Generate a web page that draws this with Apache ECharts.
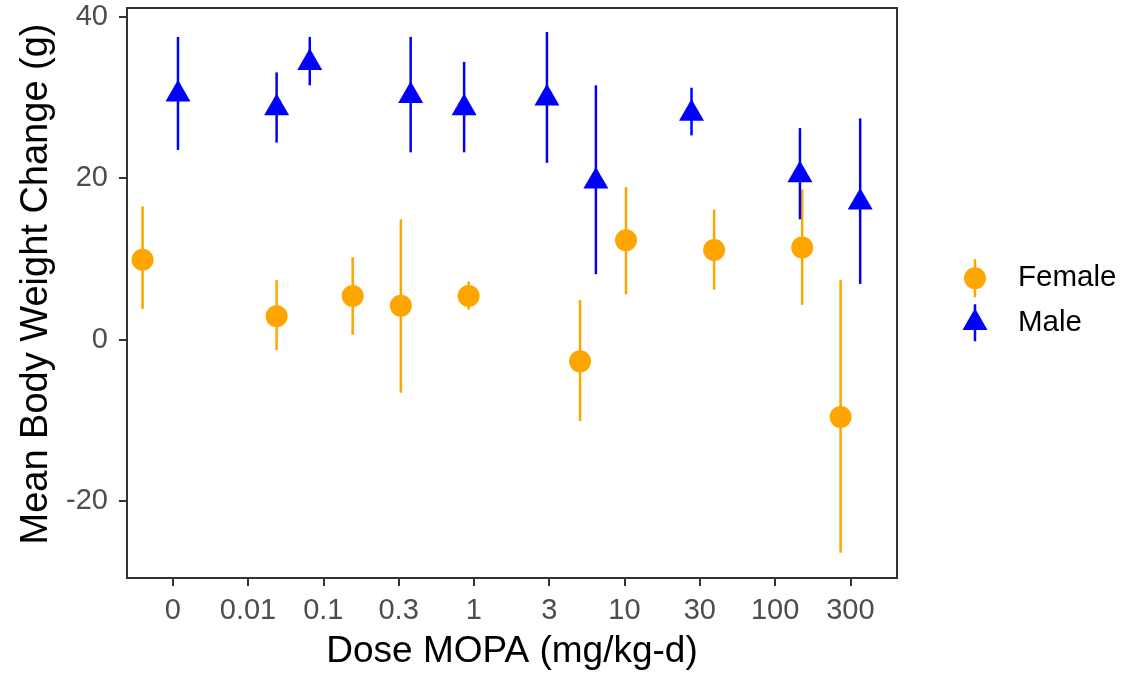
<!DOCTYPE html>
<html>
<head>
<meta charset="utf-8">
<script src="https://cdn.jsdelivr.net/npm/echarts@6/dist/echarts.min.js"></script>
<style>
html,body{margin:0;padding:0;background:#fff;}
#chart{width:1145px;height:675px;}
</style>
</head>
<body>
<div id="chart"></div>
<script>
// Dose categories (tick labels on the x axis)
const doseLabels = ['0', '0.01', '0.1', '0.3', '1', '3', '10', '30', '100', '300'];
const doseTickPos = [0, 1, 2, 3, 4, 5, 6, 7, 8, 9];
const yTicks = [-20, 0, 20, 40];

// Female: jittered x position (in dose-category units), mean, lower and upper bound
const femaleX    = [-0.40, 1.38, 2.39, 3.03, 3.93, 5.41, 6.02, 7.19, 8.36, 8.87];
const femaleMean = [9.9, 2.9, 5.4, 4.2, 5.4, -2.7, 12.3, 11.1, 11.4, -9.6];
const femaleLow  = [3.8, -1.3, 0.6, -6.6, 3.7, -10.1, 5.6, 6.2, 4.3, -26.4];
const femaleHigh = [16.5, 7.4, 10.2, 14.9, 7.2, 4.9, 18.9, 16.1, 18.6, 7.4];

// Male
const maleX    = [0.07, 1.38, 1.82, 3.16, 3.87, 4.97, 5.62, 6.89, 8.33, 9.13];
const maleMean = [30.4, 28.7, 34.3, 30.2, 28.7, 29.9, 19.6, 28.0, 20.4, 17.0];
const maleLow  = [23.5, 24.4, 31.5, 23.2, 23.2, 21.9, 8.1, 25.3, 14.9, 6.9];
const maleHigh = [37.5, 33.1, 37.5, 37.5, 34.4, 38.1, 31.5, 31.2, 26.2, 27.4];

const ORANGE = '#FFA500';
const BLUE = '#0000FF';
const FONT = "'Liberation Sans', Arial, sans-serif";

function barRenderer(color) {
  return function (params, api) {
    const x = api.value(0), lo = api.value(1), hi = api.value(2);
    const p1 = api.coord([x, lo]);
    const p2 = api.coord([x, hi]);
    return {
      type: 'line',
      shape: { x1: p1[0], y1: p1[1], x2: p2[0], y2: p2[1] },
      style: { stroke: color, lineWidth: 2.5 }
    };
  };
}

const femaleIcon = 'path://M11.25,0H13.75V38H11.25Z M1.5,19A11,11 0 1,1 23.5,19A11,11 0 1,1 1.5,19Z';
const maleIcon = 'path://M11.25,0.5H13.75V37.5H11.25Z M12.5,4.53L25,26.23L0,26.23Z';

const chart = echarts.init(document.getElementById('chart'), null, { renderer: 'canvas' });
chart.setOption({
  animation: false,
  backgroundColor: '#fff',
  textStyle: { fontFamily: FONT },
  grid: {
    left: 127, right: 248, top: 8, bottom: 97,
    show: true, borderColor: '#333', borderWidth: 2, backgroundColor: 'transparent'
  },
  legend: {
    orient: 'vertical',
    left: 962.5, top: 259.3, padding: 0,
    itemWidth: 25, itemHeight: 38, itemGap: 7,
    symbolKeepAspect: true,
    textStyle: { fontSize: 29.5, color: '#000', fontFamily: FONT, padding: [6, 0, 0, 25.5] },
    data: [
      { name: 'Female', icon: femaleIcon },
      { name: 'Male', icon: maleIcon }
    ]
  },
  xAxis: {
    type: 'value',
    min: -0.607, max: 9.619,
    name: 'Dose MOPA (mg/kg-d)',
    nameLocation: 'middle', nameGap: 55,
    nameTextStyle: { fontSize: 37, color: '#000', fontFamily: FONT },
    splitLine: { show: false },
    axisLine: { show: true, onZero: false, lineStyle: { color: '#333', width: 2 } },
    axisTick: { show: true, length: 8, customValues: doseTickPos, lineStyle: { color: '#333', width: 2 } },
    axisLabel: {
      customValues: doseTickPos, margin: 18, fontSize: 29, color: '#4D4D4D', fontFamily: FONT,
      formatter: v => doseLabels[Math.round(v)]
    }
  },
  yAxis: {
    type: 'value',
    min: -29.54, max: 41.08,
    name: 'Mean Body Weight Change (g)',
    nameLocation: 'middle', nameGap: 71,
    nameTextStyle: { fontSize: 38, color: '#000', fontFamily: FONT, padding: [0, 0, 0, 18] },
    splitLine: { show: false },
    axisLine: { show: true, onZero: false, lineStyle: { color: '#333', width: 2 } },
    axisTick: { show: true, length: 8, customValues: yTicks, lineStyle: { color: '#333', width: 2 } },
    axisLabel: { customValues: yTicks, margin: 19, fontSize: 29, color: '#4D4D4D', fontFamily: FONT, padding: [8, 0, 0, 0] }
  },
  series: [
    {
      name: 'Female range', type: 'custom', z: 2,
      renderItem: barRenderer(ORANGE),
      encode: { x: 0, y: [1, 2] },
      data: femaleX.map((x, i) => [x, femaleLow[i], femaleHigh[i]])
    },
    {
      name: 'Male range', type: 'custom', z: 2,
      renderItem: barRenderer(BLUE),
      encode: { x: 0, y: [1, 2] },
      data: maleX.map((x, i) => [x, maleLow[i], maleHigh[i]])
    },
    {
      name: 'Female', type: 'scatter', z: 3,
      symbol: 'circle', symbolSize: 22,
      itemStyle: { color: ORANGE, opacity: 1 },
      data: femaleX.map((x, i) => [x, femaleMean[i]])
    },
    {
      name: 'Male', type: 'scatter', z: 3,
      symbol: 'triangle', symbolSize: [25, 21.7], symbolOffset: [0, -3.6],
      itemStyle: { color: BLUE, opacity: 1 },
      data: maleX.map((x, i) => [x, maleMean[i]])
    }
  ]
});
</script>
</body>
</html>
